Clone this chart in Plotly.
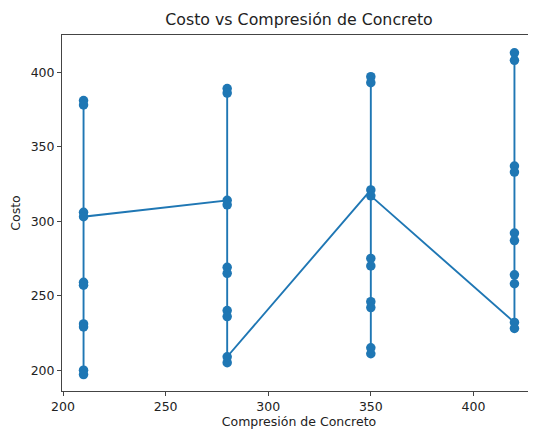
import plotly.graph_objects as go

# Data (in plotted order)
compresion = [210] * 10 + [280] * 10 + [350] * 10 + [420] * 10
costo = [
    306, 381, 259, 231, 200, 378, 257, 229, 197, 303,
    314, 389, 386, 311, 269, 265, 240, 236, 205, 209,
    321, 397, 393, 275, 270, 246, 242, 215, 211, 317,
    232, 413, 408, 337, 333, 292, 287, 264, 258, 228,
]
x_ticks = [200, 250, 300, 350, 400]
y_ticks = [200, 250, 300, 350, 400]

blue = "#1f77b4"
font = "DejaVu Sans"

fig = go.Figure(
    go.Scatter(
        x=compresion,
        y=costo,
        mode="lines+markers",
        line=dict(color=blue, width=1.9),
        marker=dict(color=blue, size=9.5),
        showlegend=False,
    )
)

axis_common = dict(
    showgrid=False,
    zeroline=False,
    showline=True,
    linecolor="#444",
    linewidth=1,
    mirror=True,
    ticks="outside",
    ticklen=4,
    tickcolor="#444",
    tickfont=dict(family=font, size=12.5, color="#222"),
)

# page has an 8px body margin, so the figure is offset by (8, 8)
W, H = 528, 422
fig.update_layout(
    width=W,
    height=H,
    margin=dict(l=54, r=0, t=27, b=39),
    paper_bgcolor="white",
    plot_bgcolor="white",
    title=dict(
        text="Costo vs Compresión de Concreto",
        x=291 / W,
        xanchor="center",
        y=1 - 11 / H,
        yanchor="middle",
        font=dict(family=font, size=15.8, color="#222"),
    ),
    xaxis=dict(
        range=[199.5, 430.5],
        tickvals=x_ticks,
        title=dict(text="Compresión de Concreto", standoff=3,
                   font=dict(family=font, size=12.5, color="#222")),
        **axis_common,
    ),
    yaxis=dict(
        range=[186, 425],
        tickvals=y_ticks,
        title=dict(text="Costo", standoff=8,
                   font=dict(family=font, size=12.5, color="#222")),
        **axis_common,
    ),
)

fig.write_html("out.html")
